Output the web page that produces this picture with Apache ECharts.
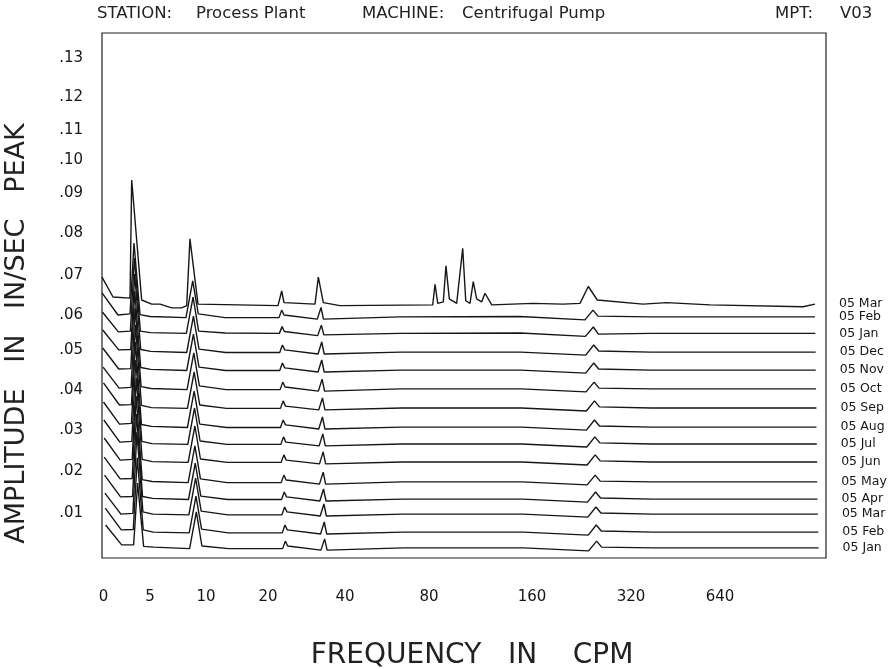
<!DOCTYPE html>
<html>
<head>
<meta charset="utf-8">
<title>Waterfall spectrum</title>
<script src="https://cdn.jsdelivr.net/npm/echarts@6.0.0/dist/echarts.min.js"></script>
<style>
  html, body { margin: 0; padding: 0; background: #fff; }
  #chart { width: 892px; height: 669px; }
</style>
</head>
<body>
<div id="chart"></div>
<script>
// tick labels and where they sit on the plot scale
const yTickText = ['.01', '.02', '.03', '.04', '.05', '.06', '.07', '.08', '.09', '.10', '.11', '.12', '.13']
const yTickPos = [0.0120, 0.0232, 0.0341, 0.0448, 0.0555, 0.0648, 0.0755, 0.0867, 0.0973, 0.1061, 0.1141, 0.1229, 0.1333]
const xTickText = ['0', '5', '10', '20', '40', '80', '160', '320', '640']
const xTickPos = [0.2, 6.63, 14.36, 22.93, 33.56, 45.17, 59.39, 73.07, 85.36]

// trace dates, top (latest) to bottom (oldest)
const traceNames = ['05 Mar', '05 Feb', '05 Jan', '05 Dec', '05 Nov', '05 Oct', '05 Sep', '05 Aug',
  '05 Jul', '05 Jun', '05 May', '05 Apr', '05 Mar', '05 Feb', '05 Jan']
// small sideways skew of each trace in the waterfall
const xShift = [0, 0, 0.05, 0.1, 0.1, 0.15, 0.2, 0.2, 0.25, 0.3, 0.3, 0.35, 0.4, 0.45, 0.5]

// latest trace (has the extra cluster of lines)
const xTop = [0, 1.52, 3.87, 4.10, 5.48, 6.86, 8.01, 9.63, 11.01, 11.70,
  12.15, 13.26, 24.31, 24.82, 25.14, 29.42, 29.88, 30.57, 32.87, 45.68,
  46.00, 46.37, 47.14, 47.51, 47.97, 48.99, 49.82, 50.24, 50.83, 51.28,
  51.75, 52.44, 52.90, 53.83, 59.53, 63.67, 66.02, 67.17, 68.41, 74.72,
  78.00, 83.98, 96.82, 98.48]
const ampMar05 = [0.0749, 0.0696, 0.0693, 0.1008, 0.0688, 0.0677, 0.0677, 0.0667, 0.0667, 0.0673,
  0.0851, 0.0677, 0.0673, 0.0712, 0.0681, 0.0677, 0.0749, 0.0681, 0.0673, 0.0675,
  0.0730, 0.0679, 0.0683, 0.0779, 0.0691, 0.0679, 0.0826, 0.0686, 0.0679, 0.0737,
  0.0691, 0.0683, 0.0706, 0.0675, 0.0679, 0.0677, 0.0679, 0.0724, 0.0688, 0.0677,
  0.0681, 0.0675, 0.0670, 0.0677]

// older traces share these sample positions
const xLower = [0, 2.21, 3.87, 4.42, 5.25, 6.63, 11.60, 12.53, 13.30, 16.99, 24.45, 24.82,
  25.14, 29.74, 30.25, 30.59, 41.16, 57.73, 66.71, 67.82, 68.51, 75.69, 83.98, 98.48]
const ampFeb05 = [0.0707, 0.0648, 0.0651, 0.0840, 0.0649, 0.0644, 0.0641, 0.0739, 0.0651, 0.0641, 0.0641, 0.0661,
  0.0648, 0.0637, 0.0668, 0.0637, 0.0643, 0.0644, 0.0635, 0.0661, 0.0645, 0.0643, 0.0643, 0.0643]
const ampJan05 = [0.0656, 0.0603, 0.0605, 0.0800, 0.0605, 0.0601, 0.0599, 0.0696, 0.0605, 0.0600, 0.0599, 0.0617,
  0.0604, 0.0593, 0.0621, 0.0595, 0.0599, 0.0600, 0.0591, 0.0616, 0.0597, 0.0599, 0.0599, 0.0599]
const ampDec04 = [0.0608, 0.0555, 0.0556, 0.0757, 0.0556, 0.0551, 0.0548, 0.0645, 0.0557, 0.0548, 0.0548, 0.0568,
  0.0555, 0.0544, 0.0576, 0.0544, 0.0549, 0.0549, 0.0541, 0.0568, 0.0552, 0.0549, 0.0549, 0.0549]
const ampNov04 = [0.0560, 0.0504, 0.0505, 0.0712, 0.0508, 0.0503, 0.0500, 0.0597, 0.0509, 0.0500, 0.0500, 0.0520,
  0.0507, 0.0496, 0.0528, 0.0496, 0.0501, 0.0501, 0.0493, 0.0520, 0.0504, 0.0501, 0.0501, 0.0501]
const ampOct04 = [0.0509, 0.0453, 0.0455, 0.0667, 0.0457, 0.0452, 0.0449, 0.0547, 0.0459, 0.0449, 0.0449, 0.0469,
  0.0456, 0.0445, 0.0477, 0.0445, 0.0451, 0.0451, 0.0443, 0.0469, 0.0453, 0.0451, 0.0451, 0.0451]
const ampSep04 = [0.0467, 0.0408, 0.0409, 0.0621, 0.0407, 0.0401, 0.0399, 0.0496, 0.0408, 0.0399, 0.0399, 0.0419,
  0.0405, 0.0395, 0.0427, 0.0395, 0.0400, 0.0400, 0.0392, 0.0419, 0.0403, 0.0400, 0.0400, 0.0400]
const ampAug04 = [0.0416, 0.0357, 0.0359, 0.0576, 0.0356, 0.0351, 0.0348, 0.0445, 0.0357, 0.0348, 0.0348, 0.0368,
  0.0355, 0.0344, 0.0376, 0.0344, 0.0349, 0.0349, 0.0341, 0.0368, 0.0352, 0.0349, 0.0349, 0.0349]
const ampJul04 = [0.0368, 0.0309, 0.0311, 0.0528, 0.0311, 0.0305, 0.0303, 0.0400, 0.0312, 0.0303, 0.0303, 0.0323,
  0.0309, 0.0299, 0.0331, 0.0299, 0.0304, 0.0304, 0.0296, 0.0323, 0.0307, 0.0304, 0.0304, 0.0304]
const ampJun04 = [0.0320, 0.0261, 0.0263, 0.0480, 0.0263, 0.0257, 0.0255, 0.0352, 0.0264, 0.0255, 0.0255, 0.0275,
  0.0261, 0.0251, 0.0283, 0.0251, 0.0256, 0.0256, 0.0248, 0.0275, 0.0259, 0.0256, 0.0256, 0.0256]
const ampMay04 = [0.0269, 0.0211, 0.0212, 0.0432, 0.0209, 0.0204, 0.0201, 0.0299, 0.0211, 0.0201, 0.0201, 0.0221,
  0.0208, 0.0197, 0.0229, 0.0197, 0.0203, 0.0203, 0.0195, 0.0221, 0.0205, 0.0203, 0.0203, 0.0203]
const ampApr04 = [0.0221, 0.0163, 0.0164, 0.0384, 0.0164, 0.0159, 0.0156, 0.0253, 0.0165, 0.0156, 0.0156, 0.0176,
  0.0163, 0.0152, 0.0184, 0.0152, 0.0157, 0.0157, 0.0149, 0.0176, 0.0160, 0.0157, 0.0157, 0.0157]
const ampMar04 = [0.0173, 0.0117, 0.0119, 0.0336, 0.0123, 0.0117, 0.0115, 0.0213, 0.0125, 0.0115, 0.0115, 0.0136,
  0.0123, 0.0112, 0.0144, 0.0112, 0.0117, 0.0117, 0.0109, 0.0136, 0.0120, 0.0117, 0.0117, 0.0117]
const ampFeb04 = [0.0133, 0.0075, 0.0076, 0.0267, 0.0075, 0.0069, 0.0067, 0.0165, 0.0077, 0.0067, 0.0067, 0.0088,
  0.0075, 0.0064, 0.0096, 0.0064, 0.0069, 0.0069, 0.0061, 0.0088, 0.0072, 0.0069, 0.0069, 0.0069]
const ampJan04 = [0.0088, 0.0035, 0.0035, 0.0200, 0.0031, 0.0029, 0.0025, 0.0123, 0.0032, 0.0025, 0.0025, 0.0045,
  0.0032, 0.0021, 0.0051, 0.0021, 0.0027, 0.0027, 0.0019, 0.0045, 0.0029, 0.0027, 0.0027, 0.0027]

const traces = [ampMar05, ampFeb05, ampJan05, ampDec04, ampNov04, ampOct04, ampSep04, ampAug04,
  ampJul04, ampJun04, ampMay04, ampApr04, ampMar04, ampFeb04, ampJan04]

const font = 'DejaVu Sans'
const ink = '#161616'

const chart = echarts.init(document.getElementById('chart'))

const series = traces.map((ys, i) => {
  const xs = i === 0 ? xTop : xLower
  return {
    name: traceNames[i],
    type: 'line',
    showSymbol: false,
    symbol: 'none',
    silent: true,
    lineStyle: { color: ink, width: 1.4 },
    endLabel: {
      show: true,
      formatter: '{a}',
      distance: 24,
      color: ink,
      fontFamily: font,
      fontSize: 12.5
    },
    data: ys.map((v, j) => [xs[j] + xShift[i], v])
  }
})

const headStyle = { fontFamily: font, fontSize: 16.5, fontWeight: 'normal', color: '#222' }
const head = [
  ['STATION:', 97], ['Process Plant', 196], ['MACHINE:', 362],
  ['Centrifugal Pump', 462], ['MPT:', 775], ['V03', 840]
]

const option = {
  animation: false,
  backgroundColor: '#fff',
  title: head.map(h => ({ text: h[0], left: h[1], top: 5, padding: 0, textStyle: headStyle })),
  grid: {
    left: 102,
    top: 33,
    width: 724,
    height: 525,
    outerBoundsMode: 'none',
    containLabel: false,
    show: true,
    borderColor: '#222',
    borderWidth: 1.2,
    backgroundColor: 'transparent'
  },
  xAxis: {
    type: 'value',
    min: 0,
    max: 100,
    axisLine: { show: false },
    axisTick: { show: false },
    splitLine: { show: false },
    axisLabel: {
      customValues: xTickPos,
      formatter: v => xTickText[xTickPos.indexOf(v)],
      margin: 32,
      color: ink,
      fontFamily: font,
      fontSize: 15
    },
    name: 'FREQUENCY   IN    CPM',
    nameLocation: 'middle',
    nameGap: 84,
    nameTextStyle: { color: '#222', fontFamily: font, fontSize: 28, padding: [0, 0, 0, 16] }
  },
  yAxis: {
    type: 'value',
    min: 0,
    max: 0.14,
    axisLine: { show: false },
    axisTick: { show: false },
    splitLine: { show: false },
    axisLabel: {
      customValues: yTickPos,
      formatter: v => yTickText[yTickPos.indexOf(v)],
      margin: 19,
      color: ink,
      fontFamily: font,
      fontSize: 15
    },
    name: 'AMPLITUDE   IN   IN/SEC   PEAK',
    nameLocation: 'middle',
    nameGap: 72,
    nameTextStyle: { color: '#222', fontFamily: font, fontSize: 27, padding: [0, 76, 0, 0] }
  },
  series: series
}

chart.setOption(option)
</script>
</body>
</html>
